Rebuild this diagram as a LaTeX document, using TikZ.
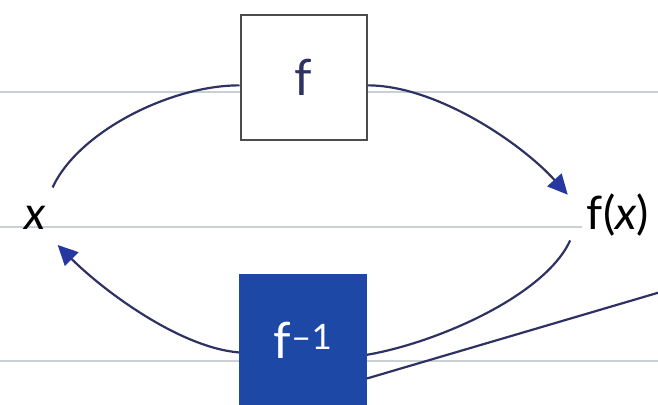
\documentclass[tikz,border=0pt]{standalone}
\usepackage{fontspec}
\setmainfont{Lato}
\usepackage{xcolor}
\usetikzlibrary{positioning, arrows.meta}

\definecolor{ruleline}{HTML}{C9D0D6}
\definecolor{arcline}{HTML}{2E3263}
\definecolor{tipblue}{HTML}{2637A0}
\definecolor{invblue}{HTML}{1E48A6}

\begin{document}
\begin{tikzpicture}[
        x=1pt, y=-1pt,
        ruled/.style={draw=ruleline, line width=1.6pt},
        mapbox/.style={rectangle, draw=black!70, line width=2pt, fill=white, minimum width=126pt, minimum height=125pt, inner sep=0pt, font=\fontsize{50}{54}\selectfont, text=arcline},
        invbox/.style={mapbox, draw=invblue, fill=invblue, text=white, minimum height=130pt},
        mathlabel/.style={circle, inner sep=0pt, font=\fontsize{46}{50}\selectfont},
        arc/.style={draw=arcline, line width=2.2pt},
        tip/.style={-{Triangle[length=20pt, width=19pt, color=tipblue]}},
    ]
        \useasboundingbox (0,0) rectangle (658,404);
        \clip (0,0) rectangle (658,404);

        % ruled paper
        \draw[ruled] (0,92) -- (658,92);
        \draw[ruled] (0,227) -- (582,227);
        \draw[ruled] (0,361) -- (658,361);

        \node[mapbox] (f) at (303.5,77.5) {f};
        \node[invbox] (finv) at (303,340) {f\textsuperscript{–1}};
        \node[mathlabel, minimum size=70pt] (x) at (35,218) {\textit{x}};
        \node[mathlabel, minimum size=108pt] (fx) at (618,215) {f(\textit{x})};
        \coordinate (edge) at (664,291);

        \draw[arc] (x.60) .. controls +(25,-55) and +(-70,0) .. (f.187);
        \draw[arc, tip] (f.353) .. controls +(70,0) and +(-45,-50) .. (fx.158);
        \draw[arc] (fx.208) .. controls +(-25,55) and +(70,-12) .. (finv.347);
        \draw[arc, tip] (finv.191) .. controls +(-60,-5) and +(45,45) .. (x.-50);
        \draw[arc] (finv.329) -- (edge);
    \end{tikzpicture}
\end{document}
